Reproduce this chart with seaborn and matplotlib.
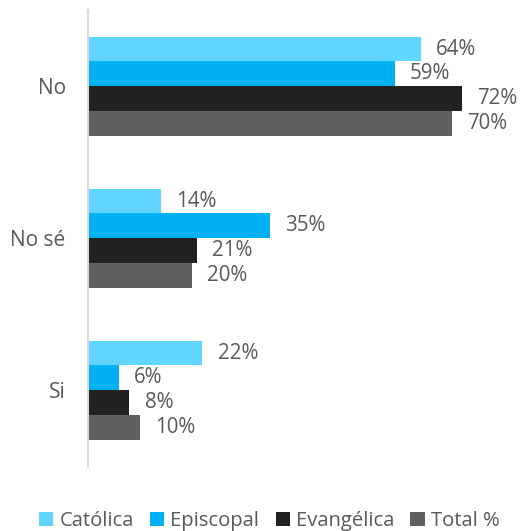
import pandas as pd
import matplotlib.pyplot as plt
import seaborn as sns

respuestas = ['No', 'No sé', 'Si']
grupos = ['Católica', 'Episcopal', 'Evangélica', 'Total %']
catolica = [64, 14, 22]
episcopal = [59, 35, 6]
evangelica = [72, 21, 8]
total = [70, 20, 10]
colores = ['#5fd5ff', '#00b0f0', '#222222', '#606060']

rows = []
for g, vals in zip(grupos, [catolica, episcopal, evangelica, total]):
    for r, v in zip(respuestas, vals):
        rows.append({'resp': r, 'grupo': g, 'valor': v})
df = pd.DataFrame(rows)

sns.set_style('white')
plt.rcParams['font.family'] = ['Open Sans', 'DejaVu Sans']

fig = plt.figure(figsize=(5.2, 5.31), dpi=100)
ax = fig.add_axes([0.169, 0.122, 0.8, 0.859])

sns.barplot(data=df, y='resp', x='valor', hue='grupo', order=respuestas,
            hue_order=grupos, palette=colores, orient='h', width=0.65,
            gap=0, saturation=1, linewidth=0, ax=ax)

for cont in ax.containers:
    ax.bar_label(cont, fmt='%d%%', padding=11, fontsize=14.8, color='#595959')

ax.set_xlim(0, 80)
ax.set_ylim(2.5, -0.5)
ax.set_xlabel('')
ax.set_ylabel('')
ax.set_xticks([])
ax.tick_params(axis='y', length=0, pad=16, labelsize=15, labelcolor='#595959')
for s in ['top', 'right', 'bottom']:
    ax.spines[s].set_visible(False)
ax.spines['left'].set_color('#d9d9d9')
ax.spines['left'].set_linewidth(1.5)

handles, labels = ax.get_legend_handles_labels()
ax.get_legend().remove()
fig.legend(handles, labels, loc='lower center', bbox_to_anchor=(0.518, -0.035),
           ncol=4, frameon=False, fontsize=14.6, labelcolor='#595959',
           handlelength=0.7, handleheight=0.7, handletextpad=0.3,
           columnspacing=0.8)

fig.savefig('out.png', dpi=100)
